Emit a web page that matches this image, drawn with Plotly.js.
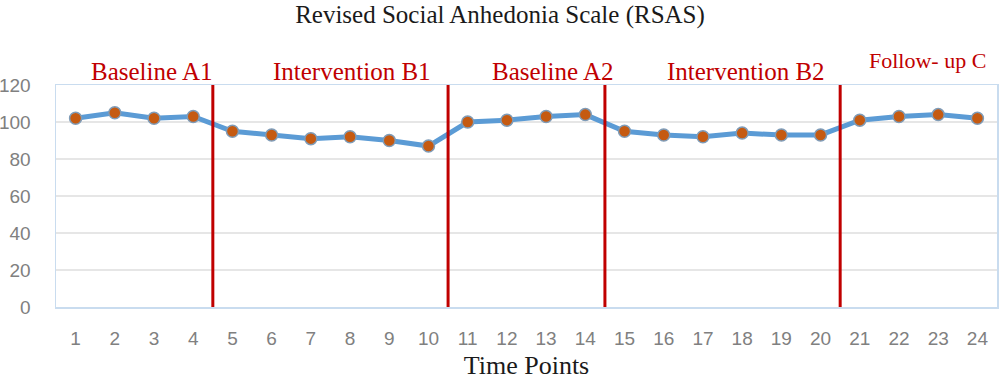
<!DOCTYPE html>
<html>
<head>
<meta charset="utf-8">
<script src="https://cdn.plot.ly/plotly-3.0.1.min.js"></script>
<style>html,body{margin:0;padding:0;background:#fff;}#chart{width:1000px;height:380px;}</style>
</head>
<body>
<div id="chart"></div>
<script>
const timePoints = [1,2,3,4,5,6,7,8,9,10,11,12,13,14,15,16,17,18,19,20,21,22,23,24];
const rsasScores = [102,105,102,103,95,93,91,92,90,87,100,101,103,104,95,93,92,94,93,93,101,103,104,102];
const phaseBoundaries = [4.5, 10.5, 14.5, 20.5];
const phaseLabels = ["Baseline A1","Intervention B1","Baseline A2","Intervention B2","Follow- up C"];
const phaseLabelX = [2.94, 8.04, 13.17, 18.09, 22.73];
const yTicks = [0,20,40,60,80,100,120];

const trace = {
  x: timePoints, y: rsasScores, type: 'scatter', mode: 'lines+markers',
  line: {color: '#5B9BD5', width: 5},
  marker: {color: '#C55A11', size: 12, line: {color: '#7F9CB8', width: 1.5}},
  hoverinfo: 'x+y', showlegend: false
};

const shapes = phaseBoundaries.map(b => ({
  type: 'line', xref: 'x', yref: 'y', x0: b, x1: b, y0: 0, y1: 121,
  line: {color: '#C00000', width: 3}
}));

const annotations = phaseLabels.map((t, i) => ({
  text: t, xref: 'x', yref: 'paper', x: phaseLabelX[i],
  y: i === 4 ? 1.11 : 1.059, yanchor: 'middle', xanchor: 'center', showarrow: false,
  font: {family: 'Liberation Serif, Times New Roman, serif', size: i === 4 ? 22 : 25, color: '#C00000'}
}));

const layout = {
  width: 1000, height: 380,
  margin: {l: 56, r: 3, t: 85, b: 73},
  paper_bgcolor: '#fff', plot_bgcolor: '#fff',
  title: {text: 'Revised Social Anhedonia Scale (RSAS)', x: 0.5, xanchor: 'center', y: 0.963, yanchor: 'middle', yref: 'container',
    font: {family: 'Liberation Serif, Times New Roman, serif', size: 25, color: '#1a1a1a'}},
  xaxis: {
    range: [0.5, 24.5], tickvals: timePoints, ticktext: timePoints.map(String),
    showgrid: false, zeroline: false, showline: true, linecolor: '#C9DCEF', linewidth: 1.5, mirror: true,
    ticks: '', ticklabelstandoff: 14,
    tickfont: {family: 'Liberation Sans, Arial, sans-serif', size: 19, color: '#808080'},
    title: {text: 'Time Points', standoff: 10, font: {family: 'Liberation Serif, Times New Roman, serif', size: 26, color: '#1a1a1a'}}
  },
  yaxis: {
    range: [0, 120], tickvals: yTicks, showgrid: true, gridcolor: '#E6E6E6', gridwidth: 1.5,
    zeroline: false, showline: true, linecolor: '#C9DCEF', linewidth: 1.5, mirror: true,
    ticks: '', ticklabelstandoff: 20,
    tickfont: {family: 'Liberation Sans, Arial, sans-serif', size: 19, color: '#808080'}
  },
  shapes: shapes,
  annotations: annotations
};

Plotly.newPlot('chart', [trace], layout, {displayModeBar: false, staticPlot: true});
</script>
</body>
</html>
